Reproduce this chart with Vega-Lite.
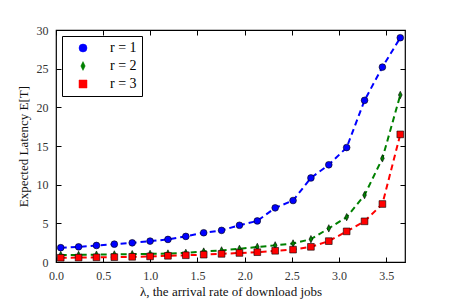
{
  "$schema": "https://vega.github.io/schema/vega-lite/v6.json",
  "width": 349,
  "height": 232,
  "autosize": {"type": "none"},
  "padding": {"left": 56, "top": 30, "right": 45, "bottom": 38},
  "background": "white",
  "config": {
    "view": {"stroke": "black", "strokeWidth": 1.2},
    "font": "Liberation Serif",
    "axis": {"grid": false, "domain": false, "tickColor": "black", "tickWidth": 1, "labelFlush": false, "labelFont": "Liberation Serif", "labelFontSize": 12, "labelColor": "#333", "titleFont": "Liberation Serif", "titleFontSize": 13, "titleFontWeight": "normal", "titleColor": "#111"},
    "legend": {"orient": "top-left", "offset": 6, "title": null, "strokeColor": "black", "fillColor": "white", "padding": 5, "labelFont": "Liberation Serif", "labelFontSize": 14, "labelColor": "black", "symbolSize": 64, "symbolStrokeColor": "black", "symbolStrokeWidth": 0.5, "rowPadding": 4, "symbolOpacity": 1, "symbolOffset": 9, "labelOffset": 20}
  },
  "data": {"values": [
    {"x": 0.05, "E": 1.85, "r": "r = 1"},
    {"x": 0.2395, "E": 1.96, "r": "r = 1"},
    {"x": 0.4289, "E": 2.14, "r": "r = 1"},
    {"x": 0.6184, "E": 2.31, "r": "r = 1"},
    {"x": 0.8079, "E": 2.48, "r": "r = 1"},
    {"x": 0.9974, "E": 2.7, "r": "r = 1"},
    {"x": 1.1868, "E": 2.92, "r": "r = 1"},
    {"x": 1.3763, "E": 3.31, "r": "r = 1"},
    {"x": 1.5658, "E": 3.78, "r": "r = 1"},
    {"x": 1.7553, "E": 4.09, "r": "r = 1"},
    {"x": 1.9447, "E": 4.75, "r": "r = 1"},
    {"x": 2.1342, "E": 5.31, "r": "r = 1"},
    {"x": 2.3237, "E": 7.0, "r": "r = 1"},
    {"x": 2.5132, "E": 7.95, "r": "r = 1"},
    {"x": 2.7026, "E": 10.87, "r": "r = 1"},
    {"x": 2.8921, "E": 12.57, "r": "r = 1"},
    {"x": 3.0816, "E": 14.8, "r": "r = 1"},
    {"x": 3.2711, "E": 20.9, "r": "r = 1"},
    {"x": 3.4605, "E": 25.2, "r": "r = 1"},
    {"x": 3.65, "E": 29.0, "r": "r = 1"},
    {"x": 0.05, "E": 0.9, "r": "r = 2"},
    {"x": 0.2395, "E": 0.92, "r": "r = 2"},
    {"x": 0.4289, "E": 0.95, "r": "r = 2"},
    {"x": 0.6184, "E": 0.98, "r": "r = 2"},
    {"x": 0.8079, "E": 1.01, "r": "r = 2"},
    {"x": 0.9974, "E": 1.05, "r": "r = 2"},
    {"x": 1.1868, "E": 1.1, "r": "r = 2"},
    {"x": 1.3763, "E": 1.18, "r": "r = 2"},
    {"x": 1.5658, "E": 1.35, "r": "r = 2"},
    {"x": 1.7553, "E": 1.5, "r": "r = 2"},
    {"x": 1.9447, "E": 1.7, "r": "r = 2"},
    {"x": 2.1342, "E": 1.95, "r": "r = 2"},
    {"x": 2.3237, "E": 2.15, "r": "r = 2"},
    {"x": 2.5132, "E": 2.4, "r": "r = 2"},
    {"x": 2.7026, "E": 2.95, "r": "r = 2"},
    {"x": 2.8921, "E": 4.35, "r": "r = 2"},
    {"x": 3.0816, "E": 5.8, "r": "r = 2"},
    {"x": 3.2711, "E": 8.65, "r": "r = 2"},
    {"x": 3.4605, "E": 13.4, "r": "r = 2"},
    {"x": 3.65, "E": 21.6, "r": "r = 2"},
    {"x": 0.05, "E": 0.55, "r": "r = 3"},
    {"x": 0.2395, "E": 0.57, "r": "r = 3"},
    {"x": 0.4289, "E": 0.6, "r": "r = 3"},
    {"x": 0.6184, "E": 0.63, "r": "r = 3"},
    {"x": 0.8079, "E": 0.67, "r": "r = 3"},
    {"x": 0.9974, "E": 0.72, "r": "r = 3"},
    {"x": 1.1868, "E": 0.8, "r": "r = 3"},
    {"x": 1.3763, "E": 0.87, "r": "r = 3"},
    {"x": 1.5658, "E": 0.95, "r": "r = 3"},
    {"x": 1.7553, "E": 1.05, "r": "r = 3"},
    {"x": 1.9447, "E": 1.17, "r": "r = 3"},
    {"x": 2.1342, "E": 1.27, "r": "r = 3"},
    {"x": 2.3237, "E": 1.45, "r": "r = 3"},
    {"x": 2.5132, "E": 1.6, "r": "r = 3"},
    {"x": 2.7026, "E": 1.96, "r": "r = 3"},
    {"x": 2.8921, "E": 2.7, "r": "r = 3"},
    {"x": 3.0816, "E": 3.96, "r": "r = 3"},
    {"x": 3.2711, "E": 5.26, "r": "r = 3"},
    {"x": 3.4605, "E": 7.5, "r": "r = 3"},
    {"x": 3.65, "E": 16.5, "r": "r = 3"}
  ]},
  "layer": [
    {
      "mark": {"type": "line", "strokeDash": [6, 4], "strokeWidth": 2},
      "encoding": {
        "x": {"field": "x", "type": "quantitative", "scale": {"domain": [0, 3.7], "nice": false, "zero": false},
              "axis": {"orient": "bottom", "values": [0, 0.5, 1, 1.5, 2, 2.5, 3, 3.5], "format": ".1f", "title": "λ, the arrival rate of download jobs", "titlePadding": 4, "offset": -5, "tickSize": 5, "labelPadding": 8}},
        "y": {"field": "E", "type": "quantitative", "scale": {"domain": [0, 30], "nice": false},
              "axis": {"orient": "left", "values": [0, 5, 10, 15, 20, 25, 30], "title": "Expected Latency E[T]", "titlePadding": 6, "offset": -5, "tickSize": 5, "labelPadding": 8}},
        "color": {"field": "r", "type": "nominal", "scale": {"domain": ["r = 1", "r = 2", "r = 3"], "range": ["#0000ff", "#008000", "#ff0000"]},
                  "legend": {"encode": {"symbols": {"update": {"shape": {"signal": "datum.value === 'r = 1' ? 'M-3.125,0A0.875,0.875 0 1,0 -1.375,0A0.875,0.875 0 1,0 -3.125,0ZM-1.4,-0.25L0,-0.25L0,0.25L-1.4,0.25ZM1.375,0A0.875,0.875 0 1,0 3.125,0A0.875,0.875 0 1,0 1.375,0Z' : datum.value === 'r = 2' ? 'M-2.25,-1L-1.75,0L-2.25,1L-2.75,0ZM-1.8,-0.25L0,-0.25L0,0.25L-1.8,0.25ZM2.25,-1L2.75,0L2.25,1L1.75,0Z' : 'M-3.1,-0.85L-1.4,-0.85L-1.4,0.85L-3.1,0.85ZM-1.4,-0.25L0,-0.25L0,0.25L-1.4,0.25ZM1.4,-0.85L3.1,-0.85L3.1,0.85L1.4,0.85Z'"}}}}}}
      }
    },
    {
      "mark": {"type": "point", "filled": true, "opacity": 1, "stroke": "black", "strokeWidth": 0.6, "size": 45},
      "encoding": {
        "x": {"field": "x", "type": "quantitative", "axis": {"orient": "top", "values": [0, 0.5, 1, 1.5, 2, 2.5, 3, 3.5], "labels": false, "title": null, "offset": -5, "tickSize": 5}},
        "y": {"field": "E", "type": "quantitative", "axis": {"orient": "right", "values": [0, 5, 10, 15, 20, 25, 30], "labels": false, "title": null, "offset": -5, "tickSize": 5}},
        "color": {"field": "r", "type": "nominal",
                  "legend": {"encode": {"symbols": {"update": {"shape": {"signal": "datum.value === 'r = 1' ? 'M-3.125,0A0.875,0.875 0 1,0 -1.375,0A0.875,0.875 0 1,0 -3.125,0ZM-1.4,-0.25L0,-0.25L0,0.25L-1.4,0.25ZM1.375,0A0.875,0.875 0 1,0 3.125,0A0.875,0.875 0 1,0 1.375,0Z' : datum.value === 'r = 2' ? 'M-2.25,-1L-1.75,0L-2.25,1L-2.75,0ZM-1.8,-0.25L0,-0.25L0,0.25L-1.8,0.25ZM2.25,-1L2.75,0L2.25,1L1.75,0Z' : 'M-3.1,-0.85L-1.4,-0.85L-1.4,0.85L-3.1,0.85ZM-1.4,-0.25L0,-0.25L0,0.25L-1.4,0.25ZM1.4,-0.85L3.1,-0.85L3.1,0.85L1.4,0.85Z'"}}}}}},
        "shape": {"field": "r", "type": "nominal", "scale": {"domain": ["r = 1", "r = 2", "r = 3"], "range": ["circle", "M0,-1.1L0.55,0L0,1.1L-0.55,0Z", "square"]},
                  "legend": {"encode": {"symbols": {"update": {"shape": {"signal": "datum.value === 'r = 1' ? 'M-3.125,0A0.875,0.875 0 1,0 -1.375,0A0.875,0.875 0 1,0 -3.125,0ZM-1.4,-0.25L0,-0.25L0,0.25L-1.4,0.25ZM1.375,0A0.875,0.875 0 1,0 3.125,0A0.875,0.875 0 1,0 1.375,0Z' : datum.value === 'r = 2' ? 'M-2.25,-1L-1.75,0L-2.25,1L-2.75,0ZM-1.8,-0.25L0,-0.25L0,0.25L-1.8,0.25ZM2.25,-1L2.75,0L2.25,1L1.75,0Z' : 'M-3.1,-0.85L-1.4,-0.85L-1.4,0.85L-3.1,0.85ZM-1.4,-0.25L0,-0.25L0,0.25L-1.4,0.25ZM1.4,-0.85L3.1,-0.85L3.1,0.85L1.4,0.85Z'"}}}}}}
      }
    }
  ]
}
